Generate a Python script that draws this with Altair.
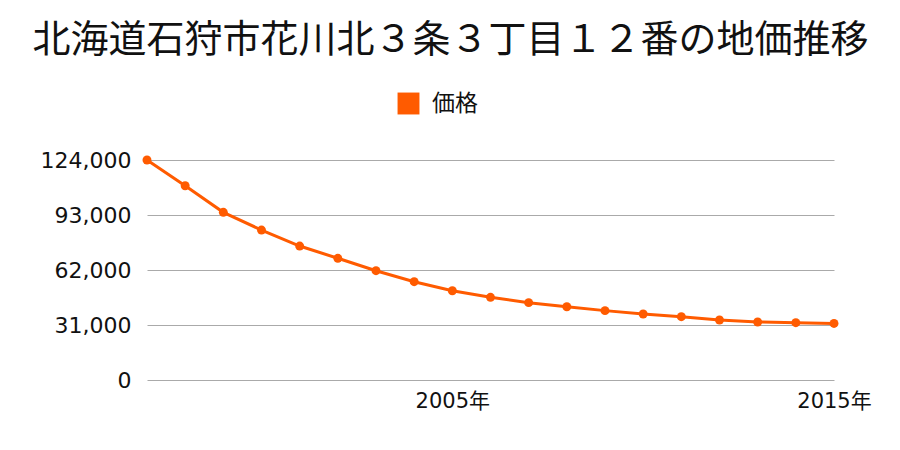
import altair as alt
import pandas as pd

title_text = "北海道石狩市花川北３条３丁目１２番の地価推移"
series_name = "価格"
years = [1997, 1998, 1999, 2000, 2001, 2002, 2003, 2004, 2005, 2006,
         2007, 2008, 2009, 2010, 2011, 2012, 2013, 2014, 2015]
prices = [124000, 109500, 94500, 84500, 75500, 68600, 61600, 55400, 50300, 46600,
          43600, 41300, 39100, 37200, 35700, 33800, 32700, 32300, 31900]
y_ticks = [0, 31000, 62000, 93000, 124000]
x_ticks = [2005, 2015]

df = pd.DataFrame({"year": years, "price": prices, "series": [series_name] * len(years)})

FONT = "Noto Sans CJK JP"
NUMFONT = "'DejaVu Sans', 'Noto Sans CJK JP'"
COLOR = "#FF5B00"

x_enc = alt.X("year:Q",
              scale=alt.Scale(domain=[1997, 2015], nice=False, zero=False),
              axis=alt.Axis(values=x_ticks, labelExpr="datum.value + '年'", grid=False,
                            domain=False, ticks=False, labelPadding=10, labelFontSize=21,
                            labelFont=NUMFONT, labelColor="#111111", labelFlush=False,
                            labelOverlap=False, title=None))
y_enc = alt.Y("price:Q",
              scale=alt.Scale(domain=[0, 124000], nice=False),
              axis=alt.Axis(values=y_ticks, format=",d", grid=True, gridColor="#aaaaaa",
                            gridWidth=1, domain=False, ticks=False, labelPadding=16,
                            labelFontSize=22, labelFont=NUMFONT, labelColor="#111111", title=None))
color_enc = alt.Color("series:N", scale=alt.Scale(range=[COLOR]),
                      legend=alt.Legend(title=None, orient="none", legendX=250, legendY=-68,
                                        symbolType="square", symbolSize=480,
                                        symbolStrokeWidth=0, labelFontSize=23, labelFont=FONT,
                                        labelColor="#111111", labelOffset=12, padding=0))

base = alt.Chart(df).encode(x=x_enc, y=y_enc, color=color_enc)
line = base.mark_line(strokeWidth=3)
pts = base.mark_circle(size=80, opacity=1)

chart = (line + pts).properties(
    width=687, height=220,
    autosize=alt.AutoSizeParams(type="none"),
    padding={"left": 147, "top": 160, "right": 66, "bottom": 70},
    title=alt.TitleParams(title_text, fontSize=38, font=FONT, fontWeight="normal",
                          color="#111111", anchor="middle", dx=-40, baseline="middle",
                          offset=13),
).configure_view(stroke=None)

chart.save("out.html", embed_options={"renderer": "svg", "actions": False})
